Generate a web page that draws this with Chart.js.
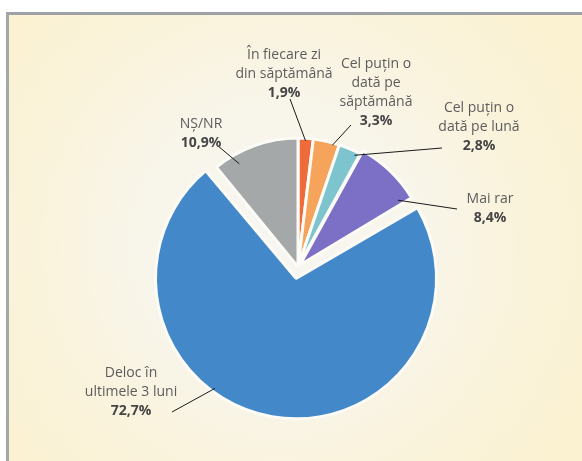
<!DOCTYPE html>
<html>
<head>
<meta charset="utf-8">
<script src="https://cdn.jsdelivr.net/npm/chart.js@4.4.1/dist/chart.umd.min.js"></script>
<style>
  html, body { margin: 0; padding: 0; background: #ffffff; }
  #wrap { position: relative; width: 582px; height: 461px; overflow: hidden; }
  #panel {
    position: absolute; left: 6px; top: 12px; width: 580px; height: 460px;
    border-top: 3px solid #9ea2a7; border-left: 3px solid #a4a8ad;
    background: radial-gradient(circle at 270px 230px, #f7f6f1 0px, #f8f5ea 140px, #faf3dc 240px, #fbf2d2 340px);
  }
  canvas { position: absolute; left: 0; top: 0; }
</style>
</head>
<body>
<div id="wrap">
  <div id="panel"></div>
  <canvas id="c" width="582" height="461"></canvas>
</div>
<script>
// Frequency categories, clockwise from 12 o'clock (label lines as printed)
const categories = [
  ['În fiecare zi', 'din săptămână'],
  ['Cel puțin o', 'dată pe', 'săptămână'],
  ['Cel puțin o', 'dată pe lună'],
  ['Mai rar'],
  ['Deloc în', 'ultimele 3 luni'],
  ['NȘ/NR']
];
// Share of respondents, %
const shares = [1.9, 3.3, 2.8, 8.4, 72.7, 10.9];
const sliceColors = ['#ee6b3b', '#f6a35c', '#7ec4cf', '#7b70c5', '#4389ca', '#a4a8a9'];
const sliceOffsets = [0, 0, 0, 11, 46, 0];

// Callout layout: text anchor (centre of first line), leader start near the text,
// and leader end as (fraction of slice angle, fraction of radius)
const callouts = [
  { x: 284, y: 55, from: [290, 99],  t: 0.5,  r: 0.98 },
  { x: 376, y: 64, from: [351, 125], t: 0.75, r: 0.98 },
  { x: 479, y: 108, from: [442, 148], t: 0.8, r: 0.97 },
  { x: 490, y: 199, from: [457, 209], t: 0.92, r: 0.9 },
  { x: 131, y: 373, from: [172, 412], t: 0.61, r: 0.98 },
  { x: 201, y: 124, from: [218, 146], t: 0.245, r: 0.92 }
];

const fmtPct = v => v.toFixed(1).replace('.', ',') + '%';

// Point on an arc, including the shift Chart.js applies to offset slices
function arcPoint(el, t, rf) {
  const p = el.getProps(['x', 'y', 'startAngle', 'endAngle', 'outerRadius']);
  const off = (el.options.offset || 0) / 4;
  const circ = p.endAngle - p.startAngle;
  const half = (p.startAngle + p.endAngle) / 2;
  const shift = off + off * (1 - Math.sin(Math.min(Math.PI, circ)));
  const a = p.startAngle + t * circ;
  const rr = p.outerRadius * rf;
  return [p.x + Math.cos(half) * shift + Math.cos(a) * rr,
          p.y + Math.sin(half) * shift + Math.sin(a) * rr];
}

const calloutPlugin = {
  id: 'callouts',
  afterDatasetsDraw(chart) {
    const ctx = chart.ctx;
    const arcs = chart.getDatasetMeta(0).data;
    ctx.save();
    ctx.textAlign = 'center';
    ctx.textBaseline = 'middle';
    const lh = 19;
    callouts.forEach((c, i) => {
      const end = arcPoint(arcs[i], c.t, c.r);
      ctx.strokeStyle = '#1a1a1a';
      ctx.lineWidth = 1;
      ctx.beginPath();
      ctx.moveTo(c.from[0], c.from[1]);
      ctx.lineTo(end[0], end[1]);
      ctx.stroke();

      const lines = categories[i];
      ctx.fillStyle = '#5c5c5c';
      ctx.font = '14px "Open Sans"';
      lines.forEach((ln, k) => ctx.fillText(ln, c.x, c.y + k * lh));
      ctx.fillStyle = '#454545';
      ctx.font = 'bold 14px "Open Sans"';
      ctx.fillText(fmtPct(shares[i]), c.x, c.y + lines.length * lh);
    });
    ctx.restore();
  }
};

new Chart(document.getElementById('c'), {
  type: 'pie',
  data: {
    labels: categories.map(l => l.join(' ')),
    datasets: [{
      data: shares,
      backgroundColor: sliceColors,
      borderColor: '#fcfbf6',
      borderWidth: 3,
      offset: sliceOffsets,
      radius: 129,
      rotation: 0
    }]
  },
  options: {
    responsive: false,
    animation: false,
    rotation: 0,
    layout: { padding: { left: 14, top: 73, right: 0, bottom: 0 } },
    plugins: { legend: { display: false }, tooltip: { enabled: false } }
  },
  plugins: [calloutPlugin]
});
</script>
</body>
</html>
